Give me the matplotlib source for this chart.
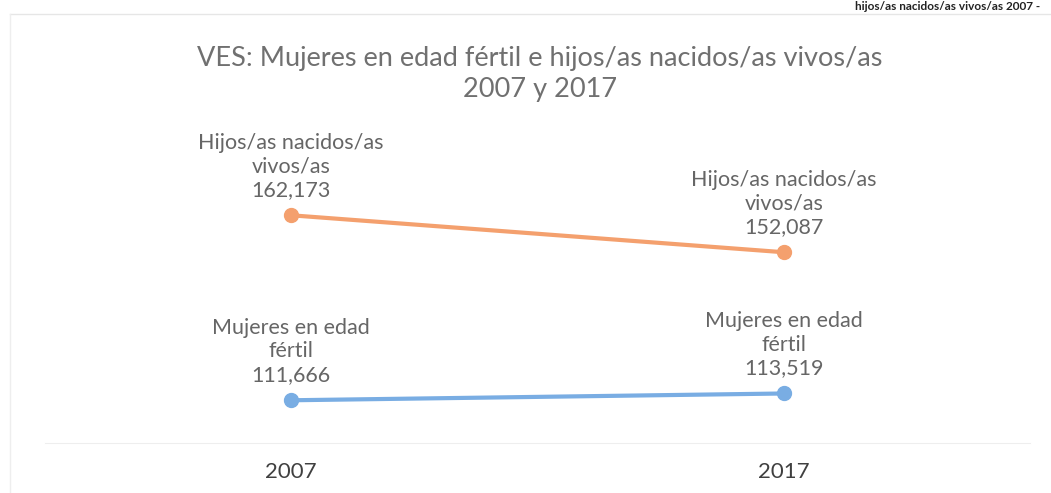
import matplotlib.pyplot as plt

# --- Data ---
years = ['2007', '2017']
hijos = [162173, 152087]
mujeres = [111666, 113519]
hijos_name = 'Hijos/as nacidos/as\nvivos/as'
mujeres_name = 'Mujeres en edad\nfértil'
title = 'VES: Mujeres en edad fértil e hijos/as nacidos/as vivos/as\n2007 y 2017'

plt.rcParams['font.family'] = ['Lato', 'DejaVu Sans']

fig = plt.figure(figsize=(10.51, 4.93), dpi=100)
ax = fig.add_axes([45 / 1051, 1 - 443 / 493, 985 / 1051, (443 - 150) / 493])

x = list(range(len(years)))
ax.plot(x, hijos, color='#F4A06E', lw=3, marker='o', ms=10, zorder=3)
ax.plot(x, mujeres, color='#79ADE3', lw=3, marker='o', ms=10, zorder=3)

# --- Data labels ---
for xi, v in zip(x, hijos):
    ax.annotate(f'{hijos_name}\n{v:,}', (xi, v), xytext=(0, 11), textcoords='offset points',
                ha='center', va='bottom', fontsize=15.5, color='#666666', linespacing=1.22)
for xi, v in zip(x, mujeres):
    ax.annotate(f'{mujeres_name}\n{v:,}', (xi, v), xytext=(0, 11), textcoords='offset points',
                ha='center', va='bottom', fontsize=15.5, color='#666666', linespacing=1.22)

ax.set_xlim(-0.5, 1.5)
ax.set_ylim(100000, 180000)
ax.set_xticks(x)
ax.set_xticklabels(years, fontsize=16, color='#404040')
ax.tick_params(axis='x', length=0, pad=14)
ax.set_yticks([])
for s in ['top', 'right', 'left']:
    ax.spines[s].set_visible(False)
ax.spines['bottom'].set_color('#eeeeee')

fig.text(540 / 1051, 1 - 74 / 493, title, ha='center', va='center', fontsize=19.5,
         color='#707070', linespacing=1.3)

# heading of the scanned page, partly cut in the reference
fig.text(1040 / 1051, 1 - 1 / 493, 'hijos/as nacidos/as vivos/as 2007 -', ha='right', va='top',
         fontsize=8.5, fontweight='bold', color='#222222')

# faint chart border
fig.add_artist(plt.Line2D([10 / 1051, 1], [1 - 14 / 493] * 2, color='#e6e6e6', lw=1))
fig.add_artist(plt.Line2D([10 / 1051] * 2, [0, 1 - 14 / 493], color='#eeeeee', lw=1))

fig.savefig('out.png', dpi=100, facecolor='white')
